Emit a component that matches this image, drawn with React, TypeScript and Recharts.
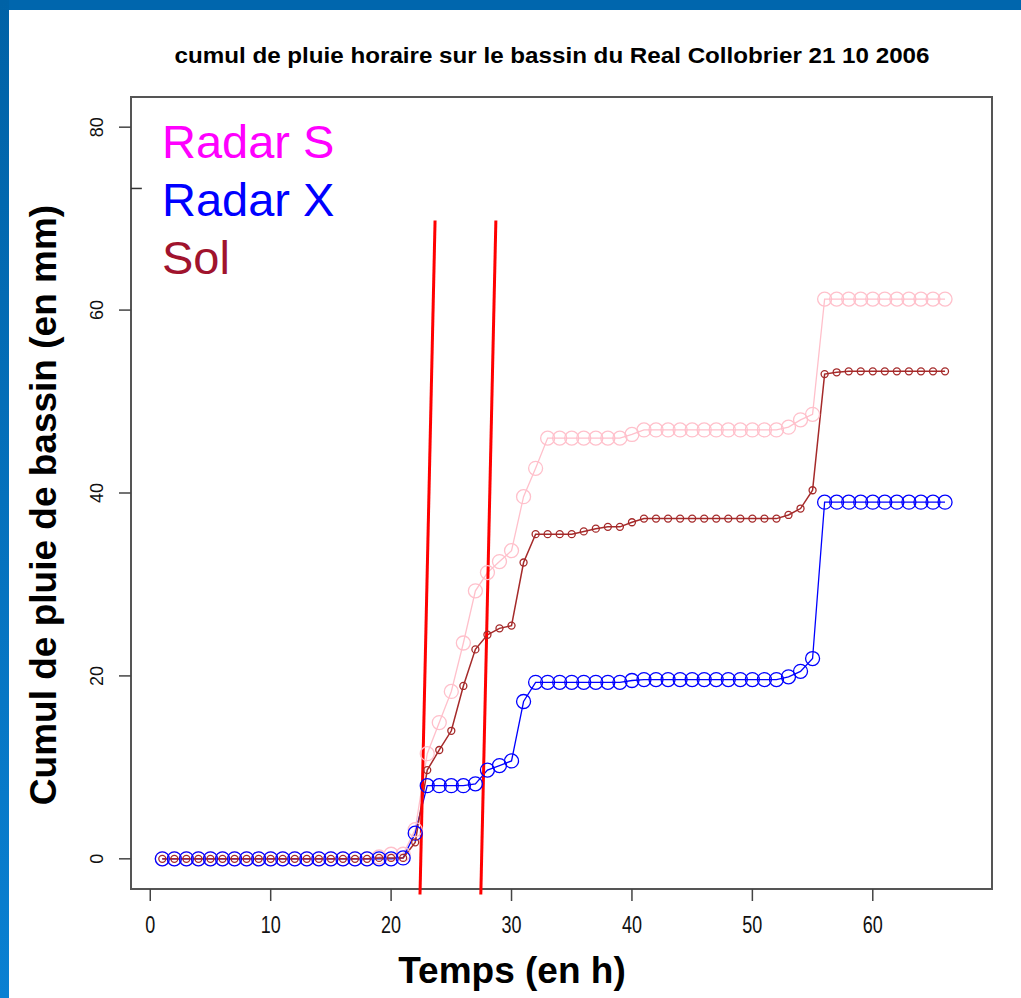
import { Line, LineChart, ReferenceArea, ReferenceLine, XAxis, YAxis } from "recharts";

// hourly accumulated basin rainfall, 21/10/2006
const hours = [
  1, 2, 3, 4, 5, 6, 7, 8, 9, 10, 11, 12, 13, 14, 15, 16, 17, 18, 19, 20, 21, 22,
  23, 24, 25, 26, 27, 28, 29, 30, 31, 32, 33, 34, 35, 36, 37, 38, 39, 40, 41, 42,
  43, 44, 45, 46, 47, 48, 49, 50, 51, 52, 53, 54, 55, 56, 57, 58, 59, 60, 61, 62,
  63, 64, 65, 66,
];

const radarS = [
  0, 0, 0, 0, 0, 0, 0, 0, 0, 0, 0, 0, 0, 0, 0, 0, 0, 0, 0.2, 0.5, 0.5, 3.2,
  11.5, 14.9, 18.3, 23.6, 29.3, 31.3, 32.5, 33.7, 39.6, 42.7, 46.0, 46.0, 46.0,
  46.0, 46.0, 46.0, 46.0, 46.4, 46.9, 46.9, 46.9, 46.9, 46.9, 46.9, 46.9, 46.9,
  46.9, 46.9, 46.9, 46.9, 47.2, 48.0, 48.6, 61.2, 61.2, 61.2, 61.2, 61.2, 61.2,
  61.2, 61.2, 61.2, 61.2, 61.2,
];

const radarX = [
  0, 0, 0, 0, 0, 0, 0, 0, 0, 0, 0, 0, 0, 0, 0, 0, 0, 0, 0, 0, 0.1, 2.8, 8.0,
  8.0, 8.0, 8.0, 8.2, 9.7, 10.2, 10.7, 17.2, 19.3, 19.3, 19.3, 19.3, 19.3, 19.3,
  19.3, 19.3, 19.5, 19.6, 19.6, 19.6, 19.6, 19.6, 19.6, 19.6, 19.6, 19.6, 19.6,
  19.6, 19.6, 19.9, 20.5, 21.9, 39.0, 39.0, 39.0, 39.0, 39.0, 39.0, 39.0, 39.0,
  39.0, 39.0, 39.0,
];

const sol = [
  0, 0, 0, 0, 0, 0, 0, 0, 0, 0, 0, 0, 0, 0, 0, 0, 0, 0, 0.1, 0.1, 0.1, 1.8, 9.7,
  11.9, 14.0, 18.9, 22.9, 24.5, 25.2, 25.5, 32.4, 35.5, 35.5, 35.5, 35.5, 35.8,
  36.1, 36.3, 36.3, 36.8, 37.2, 37.2, 37.2, 37.2, 37.2, 37.2, 37.2, 37.2, 37.2,
  37.2, 37.2, 37.2, 37.6, 38.3, 40.3, 53.0, 53.2, 53.3, 53.3, 53.3, 53.3, 53.3,
  53.3, 53.3, 53.3, 53.3,
];

const xTicks = [0, 10, 20, 30, 40, 50, 60];
const yTicks = [0, 20, 40, 60, 80];
const legendLabels = ["Radar S", "Radar X", "Sol"];

// the two hand-drawn red markers (hours / mm)
const markerBottom = [22.4, 27.45];
const markerTop = [23.65, 28.7];
const markerY = [-3.9, 69.8];

const xDomain: [number, number] = [-1.6, 69.9];
const yDomain: [number, number] = [-3.3, 83.3];

const data = hours.map((t, i) => ({ t, s: radarS[i], x: radarX[i], sol: sol[i] }));

const FONT = "'Liberation Sans', Arial, sans-serif";

const XTick = (props: any) => {
  const { x, y, payload } = props;
  return (
    <g transform={`translate(${x},${y + 24}) scale(1,1.3)`}>
      <text textAnchor="middle" dominantBaseline="central" fontSize={18} fontFamily={FONT} fill="#111">
        {payload.value}
      </text>
    </g>
  );
};

const YTick = (props: any) => {
  const { x, y, payload } = props;
  return (
    <g transform={`translate(${x - 22},${y}) rotate(-90)`}>
      <text textAnchor="middle" dominantBaseline="central" fontSize={18} fontFamily={FONT} fill="#111">
        {payload.value}
      </text>
    </g>
  );
};

const legendColors = ["#FF00FF", "#0000FF", "#A0132D"];

export default function App() {
  return (
    <div style={{ position: "relative", width: 1021, height: 998, background: "#fff", overflow: "hidden" }}>
      <style>{"body{margin:0}"}</style>
      <LineChart
        width={1021}
        height={998}
        data={data}
        margin={{ top: 97, right: 29, bottom: 59, left: 71 }}
      >
        <XAxis
          dataKey="t"
          type="number"
          domain={xDomain}
          allowDataOverflow
          ticks={xTicks}
          height={50}
          axisLine={false}
          tickLine={{ stroke: "#444", strokeWidth: 1.5 }}
          tickSize={12}
          tickMargin={0}
          tick={<XTick />}
        />
        <YAxis
          type="number"
          domain={yDomain}
          allowDataOverflow
          ticks={yTicks}
          width={60}
          axisLine={false}
          tickLine={{ stroke: "#444", strokeWidth: 1.5 }}
          tickSize={12}
          tickMargin={0}
          tick={<YTick />}
        />
        <ReferenceArea
          x1={xDomain[0]}
          x2={xDomain[1]}
          y1={yDomain[0]}
          y2={yDomain[1]}
          fill="none"
          fillOpacity={0}
          stroke="#555"
          strokeWidth={2}
          ifOverflow="visible"
        />
        <ReferenceLine
          segment={[{ x: xDomain[0], y: 73.3 }, { x: -0.7, y: 73.3 }]}
          stroke="#333"
          strokeWidth={1.5}
          ifOverflow="visible"
        />
        <Line
          dataKey="s"
          type="linear"
          stroke="#FFC0CB"
          strokeWidth={1.3}
          dot={{ r: 7, stroke: "#FFC0CB", fill: "none", strokeWidth: 1.3 }}
          isAnimationActive={false}
        />
        <Line
          dataKey="x"
          type="linear"
          stroke="#0000FF"
          strokeWidth={1.3}
          dot={{ r: 7, stroke: "#0000FF", fill: "none", strokeWidth: 1.3 }}
          isAnimationActive={false}
        />
        <Line
          dataKey="sol"
          type="linear"
          stroke="#A52A2A"
          strokeWidth={1.5}
          dot={{ r: 3.5, stroke: "#A52A2A", fill: "none", strokeWidth: 1.3 }}
          isAnimationActive={false}
        />
        {markerBottom.map((xb, i) => (
          <ReferenceLine
            key={i}
            segment={[{ x: xb, y: markerY[0] }, { x: markerTop[i], y: markerY[1] }]}
            stroke="#FF0000"
            strokeWidth={3}
            ifOverflow="visible"
          />
        ))}
      </LineChart>
      <svg
        width={1021}
        height={998}
        style={{ position: "absolute", left: 0, top: 0, pointerEvents: "none" }}
      >
        <text
          x={552}
          y={63}
          textAnchor="middle"
          fontSize={22}
          fontWeight="bold"
          fontFamily={FONT}
          textLength={755}
          lengthAdjust="spacingAndGlyphs"
          fill="#000"
        >
          cumul de pluie horaire sur le bassin du Real Collobrier 21 10 2006
        </text>
        <text x={512} y={983} textAnchor="middle" fontSize={37} fontWeight="bold" fontFamily={FONT} fill="#000">
          Temps (en h)
        </text>
        <text
          transform="translate(56,505) rotate(-90)"
          textAnchor="middle"
          fontSize={37}
          fontWeight="bold"
          fontFamily={FONT}
          fill="#000"
        >
          Cumul de pluie de bassin (en mm)
        </text>
        {legendLabels.map((label, i) => (
          <text key={label} x={162} y={158 + i * 58} fontSize={47} fontFamily={FONT} fill={legendColors[i]}>
            {label}
          </text>
        ))}
      </svg>
      <div
        style={{
          position: "absolute",
          left: 0,
          top: 0,
          width: 1021,
          height: 10,
          background: "#0066AD",
        }}
      />
      <div
        style={{
          position: "absolute",
          left: 0,
          top: 0,
          width: 9,
          height: 998,
          background: "linear-gradient(#0062A6, #0A80D2)",
        }}
      />
    </div>
  );
}
